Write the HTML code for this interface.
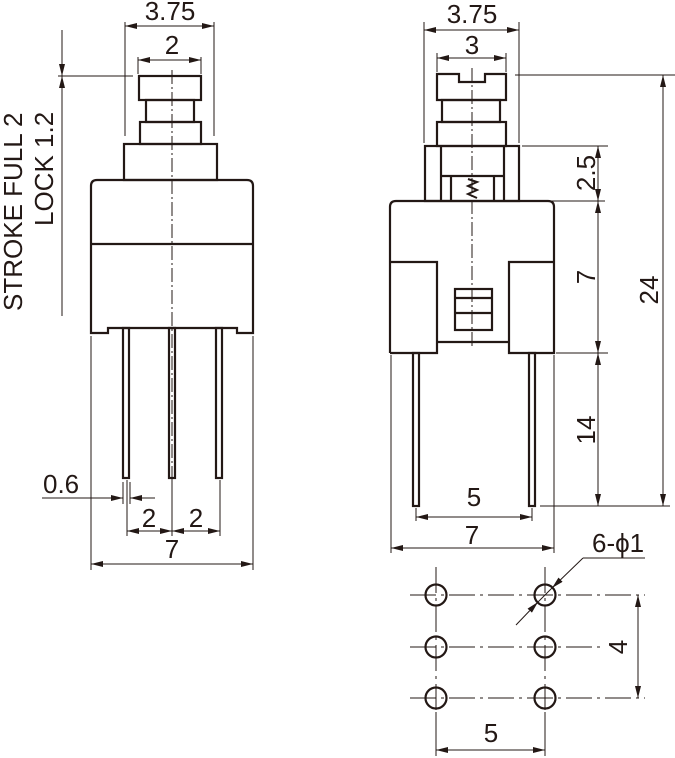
<!DOCTYPE html>
<html><head><meta charset="utf-8"><style>
html,body{margin:0;padding:0;background:#fff;}
svg{display:block;}
text{font-family:"Liberation Sans",Arial,sans-serif;font-size:26px;fill:#231815;}
</style></head><body>
<svg width="675" height="758" viewBox="0 0 675 758" xmlns="http://www.w3.org/2000/svg">
<defs>
<marker id="a" viewBox="0 0 12 6" refX="12" refY="3" markerWidth="12" markerHeight="6" markerUnits="userSpaceOnUse" orient="auto-start-reverse">
<path d="M0,0 L12,3 L0,6 Z" fill="#231815"/>
</marker>
</defs>
<g stroke="#231815" fill="none">
<g stroke-width="1">
<line x1="125" y1="22" x2="125" y2="136"/><line x1="214" y1="22" x2="214" y2="136"/>
<line x1="125" y1="26" x2="214" y2="26" marker-start="url(#a)" marker-end="url(#a)"/>
<line x1="138" y1="57" x2="138" y2="74"/><line x1="201" y1="57" x2="201" y2="74"/>
<line x1="138" y1="60" x2="201" y2="60" marker-start="url(#a)" marker-end="url(#a)"/>
<line x1="58" y1="76" x2="133" y2="76"/>
<line x1="62" y1="30" x2="62" y2="76" marker-end="url(#a)"/>
<line x1="62" y1="316" x2="62" y2="76" marker-end="url(#a)"/>
<line x1="172" y1="70" x2="172" y2="482" stroke-dasharray="14,3,2,3"/>
<line x1="91" y1="336" x2="91" y2="570"/><line x1="253" y1="336" x2="253" y2="570"/>
<line x1="91" y1="564" x2="253" y2="564" marker-start="url(#a)" marker-end="url(#a)"/>
<line x1="127" y1="480" x2="127" y2="536"/><line x1="172" y1="480" x2="172" y2="536"/><line x1="220" y1="480" x2="220" y2="536"/>
<line x1="127" y1="531" x2="172" y2="531" marker-start="url(#a)" marker-end="url(#a)"/>
<line x1="172" y1="531" x2="220" y2="531" marker-start="url(#a)" marker-end="url(#a)"/>
<line x1="123" y1="482" x2="123" y2="504"/><line x1="130" y1="482" x2="130" y2="504"/>
<line x1="42" y1="498" x2="123" y2="498" marker-end="url(#a)"/>
<line x1="155" y1="498" x2="130" y2="498" marker-end="url(#a)"/>
</g>
<g stroke-width="2.2">
<rect x="139" y="76" width="62" height="24"/>
<rect x="146" y="100" width="48" height="22"/>
<rect x="140" y="122" width="61" height="22"/>
<rect x="124" y="144" width="93" height="36"/>
<path d="M91,333 L91,186 Q91,180 97,180 L247,180 Q253,180 253,186 L253,333 L237,333 L237,328 L108,328 L108,333 Z"/>
<line x1="91" y1="244" x2="253" y2="244"/>
</g>
<g stroke-width="2.2">
<rect x="123" y="328" width="6" height="150"/>
<rect x="169" y="328" width="6" height="150"/>
<rect x="216" y="328" width="6" height="150"/>
</g>
<g stroke-width="1">
<line x1="424" y1="22" x2="424" y2="143"/><line x1="519" y1="22" x2="519" y2="143"/>
<line x1="424" y1="30" x2="519" y2="30" marker-start="url(#a)" marker-end="url(#a)"/>
<line x1="437" y1="53" x2="437" y2="72"/><line x1="506" y1="53" x2="506" y2="72"/>
<line x1="437" y1="58" x2="506" y2="58" marker-start="url(#a)" marker-end="url(#a)"/>
<line x1="472" y1="68" x2="472" y2="348" stroke-dasharray="14,3,2,3"/>
<line x1="515" y1="75" x2="675" y2="75"/>
<line x1="522" y1="146" x2="608" y2="146"/>
<line x1="527" y1="201" x2="605" y2="201"/>
<line x1="556" y1="353" x2="608" y2="353"/>
<line x1="540" y1="506" x2="670" y2="506"/>
<line x1="598" y1="146" x2="598" y2="201" marker-start="url(#a)" marker-end="url(#a)"/>
<line x1="598" y1="201" x2="598" y2="353" marker-start="url(#a)" marker-end="url(#a)"/>
<line x1="598" y1="353" x2="598" y2="506" marker-start="url(#a)" marker-end="url(#a)"/>
<line x1="663" y1="75" x2="663" y2="506" marker-start="url(#a)" marker-end="url(#a)"/>
<line x1="391" y1="355" x2="391" y2="553"/><line x1="554" y1="355" x2="554" y2="553"/>
<line x1="391" y1="548" x2="554" y2="548" marker-start="url(#a)" marker-end="url(#a)"/>
<line x1="416" y1="508" x2="416" y2="521"/><line x1="532" y1="508" x2="532" y2="521"/>
<line x1="416" y1="517" x2="532" y2="517" marker-start="url(#a)" marker-end="url(#a)"/>
</g>
<g stroke-width="2.2">
<path d="M437,74 L459,74 L459,82 L485,82 L485,74 L506,74 L506,100 L437,100 Z"/>
<rect x="442" y="100" width="58" height="22"/>
<rect x="437" y="122" width="69" height="24"/>
<rect x="425" y="146" width="94" height="55"/>
<line x1="441" y1="146" x2="441" y2="201"/><line x1="504" y1="146" x2="504" y2="201"/>
<line x1="441" y1="176" x2="504" y2="176"/>
<line x1="451" y1="176" x2="451" y2="201"/><line x1="494" y1="176" x2="494" y2="201"/>
<path d="M390,353 L390,207 Q390,201 396,201 L548,201 Q554,201 554,207 L554,353 L509,353 L509,262 L554,262 M509,342 L437,342 M390,262 L437,262 L437,353 L390,353"/>
<rect x="455" y="289" width="37" height="41"/>
<line x1="455" y1="298" x2="492" y2="298"/><line x1="455" y1="313" x2="492" y2="313"/>
</g>
<path d="M468,179 L477,182 L468,186 L477,190 L468,194 L477,198" stroke-width="2"/>
<g stroke-width="2.2">
<rect x="413" y="353" width="6" height="153"/>
<rect x="529" y="353" width="6" height="153"/>
</g>
<g stroke-width="1" stroke-dasharray="26,5,3,5">
<line x1="410" y1="595" x2="645" y2="595"/>
<line x1="410" y1="647" x2="600" y2="647"/>
<line x1="410" y1="698" x2="645" y2="698"/>
<line x1="436" y1="567" x2="436" y2="712"/>
<line x1="545" y1="567" x2="545" y2="712"/>
</g>
<g stroke-width="1">
<line x1="436" y1="712" x2="436" y2="756"/><line x1="545" y1="712" x2="545" y2="756"/>
<line x1="436" y1="750" x2="545" y2="750" marker-start="url(#a)" marker-end="url(#a)"/>
<line x1="638" y1="595" x2="638" y2="698" marker-start="url(#a)" marker-end="url(#a)"/>
<line x1="583" y1="558" x2="645" y2="558"/>
<line x1="583" y1="558" x2="552" y2="588" marker-end="url(#a)"/>
<line x1="516" y1="625" x2="538" y2="602" marker-end="url(#a)"/>
<line x1="552" y1="588" x2="538" y2="602"/>
</g>
<g stroke-width="2.2">
<circle cx="436" cy="595" r="10.5"/><circle cx="545" cy="595" r="10.5"/>
<circle cx="436" cy="647" r="10.5"/><circle cx="545" cy="647" r="10.5"/>
<circle cx="436" cy="698" r="10.5"/><circle cx="545" cy="698" r="10.5"/>
</g>
</g>
<text x="170" y="20" text-anchor="middle">3.75</text>
<text x="172" y="54" text-anchor="middle">2</text>
<text transform="translate(22,311) rotate(-90)">STROKE FULL 2</text>
<text transform="translate(53,226) rotate(-90)">LOCK 1.2</text>
<text x="43" y="493">0.6</text>
<text x="149" y="527" text-anchor="middle">2</text>
<text x="196" y="527" text-anchor="middle">2</text>
<text x="172" y="558" text-anchor="middle">7</text>
<text x="472" y="23" text-anchor="middle">3.75</text>
<text x="472" y="54" text-anchor="middle">3</text>
<text transform="translate(595,173) rotate(-90)" text-anchor="middle">2.5</text>
<text transform="translate(595,277) rotate(-90)" text-anchor="middle">7</text>
<text transform="translate(595,430) rotate(-90)" text-anchor="middle">14</text>
<text transform="translate(658,290) rotate(-90)" text-anchor="middle">24</text>
<text x="474" y="506" text-anchor="middle">5</text>
<text x="472" y="544" text-anchor="middle">7</text>
<text x="592" y="552">6-ϕ1</text>
<text transform="translate(627,647) rotate(-90)" text-anchor="middle">4</text>
<text x="491" y="742" text-anchor="middle">5</text>
</svg>
</body></html>
